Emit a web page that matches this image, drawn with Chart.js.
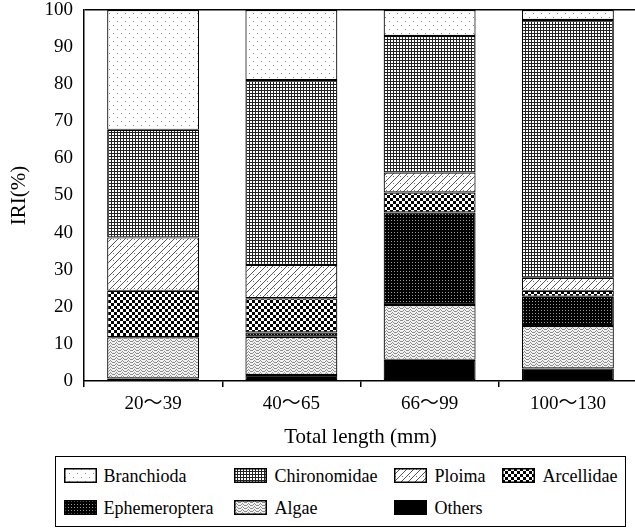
<!DOCTYPE html>
<html>
<head>
<meta charset="utf-8">
<script src="https://cdn.jsdelivr.net/npm/chart.js@4/dist/chart.umd.min.js"></script>
<style>
  html, body { margin: 0; padding: 0; background: #fff; overflow: hidden; width: 635px; height: 529px; }
  #wrap { position: absolute; left: 0; top: 0; width: 645px; height: 455px; }
  #legend { position: absolute; left: 55px; top: 456px; width: 571px; height: 71px; border: 1.5px solid #000; box-sizing: border-box; }
  .sw { position: absolute; width: 33px; height: 15px; }
  .lt { position: absolute; font-family: "Liberation Serif", "Times New Roman", serif; font-size: 18px; color: #000; line-height: 20px; white-space: nowrap; }
</style>
</head>
<body>
<div id="wrap"><canvas id="c" width="645" height="455"></canvas></div>
<div id="legend"></div>
<script>
// ---- data ----
const categories = ['20～39', '40～65', '66～99', '100～130'];
const others        = [0.7, 1.6, 5.7, 3.4];
const algae         = [11.1, 10.3, 14.8, 11.4];
const ephemeroptera = [0.0, 1.2, 24.9, 7.9];
const arcellidae    = [12.5, 9.2, 5.4, 1.6];
const ploima        = [14.4, 9.0, 5.4, 3.5];
const chironomidae  = [29.0, 49.8, 36.8, 69.5];
const branchioda    = [32.3, 18.9, 7.0, 2.7];
const yAxisTitle = 'IRI(%)';
const xAxisTitle = 'Total length (mm)';

// ---- patterns ----
function tile(w, h, draw) {
  const c = document.createElement('canvas');
  c.width = w; c.height = h;
  const g = c.getContext('2d');
  draw(g, w, h);
  return c;
}
const tiles = {
  Branchioda: tile(8, 8, (g) => {
    g.fillStyle = '#fff'; g.fillRect(0, 0, 8, 8);
    g.fillStyle = '#8a8a8a'; g.fillRect(1, 1, 1, 1); g.fillRect(5, 5, 1, 1);
  }),
  Chironomidae: tile(3, 3, (g) => {
    g.fillStyle = '#fff'; g.fillRect(0, 0, 3, 3);
    g.fillStyle = '#222'; g.fillRect(0, 0, 3, 1); g.fillRect(0, 0, 1, 3);
  }),
  Ploima: tile(7, 7, (g) => {
    g.fillStyle = '#fff'; g.fillRect(0, 0, 7, 7);
    g.strokeStyle = '#555'; g.lineWidth = 1;
    g.beginPath(); g.moveTo(-1, 8); g.lineTo(8, -1); g.stroke();
    g.fillStyle = '#777'; g.fillRect(1, 1, 1, 1);
  }),
  Arcellidae: tile(6, 6, (g) => {
    g.fillStyle = '#fff'; g.fillRect(0, 0, 6, 6);
    g.fillStyle = '#000'; g.fillRect(0, 0, 3, 3); g.fillRect(3, 3, 3, 3);
  }),
  Ephemeroptera: tile(3, 3, (g) => {
    g.fillStyle = '#000'; g.fillRect(0, 0, 3, 3);
    g.fillStyle = '#9a9a9a'; g.fillRect(1, 1, 1, 1);
  }),
  Algae: tile(6, 3, (g) => {
    g.fillStyle = '#f2f2f2'; g.fillRect(0, 0, 6, 3);
    g.fillStyle = '#8c8c8c';
    g.fillRect(0, 2, 1, 1); g.fillRect(1, 1, 1, 1); g.fillRect(2, 0, 1, 1);
    g.fillRect(3, 1, 1, 1); g.fillRect(4, 2, 1, 1); g.fillRect(5, 2, 1, 1);
  }),
  Others: tile(2, 2, (g) => { g.fillStyle = '#000'; g.fillRect(0, 0, 2, 2); })
};
const ctx = document.getElementById('c').getContext('2d');
function pat(name) { return ctx.createPattern(tiles[name], 'repeat'); }

const seriesList = [
  ['Others', others],
  ['Algae', algae],
  ['Ephemeroptera', ephemeroptera],
  ['Arcellidae', arcellidae],
  ['Ploima', ploima],
  ['Chironomidae', chironomidae],
  ['Branchioda', branchioda]
];

const datasets = seriesList.map(([name, vals]) => ({
  label: name,
  data: vals,
  backgroundColor: pat(name),
  borderColor: '#000',
  borderWidth: 1.2,
  borderSkipped: false,
  barPercentage: 0.665,
  categoryPercentage: 1.0
}));

const serif = '"Liberation Serif", "Times New Roman", "Noto Sans CJK SC", serif';

const chart = new Chart(ctx, {
  type: 'bar',
  data: { labels: categories, datasets },
  options: {
    responsive: false,
    animation: false,
    layout: { padding: { left: 0, right: 8, top: 0, bottom: 0 } },
    plugins: { legend: { display: false }, tooltip: { enabled: false } },
    scales: {
      x: {
        stacked: true,
        grid: { drawOnChartArea: false, drawTicks: true, tickLength: 6, color: '#000', lineWidth: 1.5 },
        border: { display: true, color: '#000', width: 1.5 },
        ticks: { color: '#000', font: { family: serif, size: 19 }, padding: 6, maxRotation: 0 },
        title: { display: true, text: xAxisTitle, color: '#000', font: { family: serif, size: 21 }, padding: { top: 0, bottom: 5 } },
        afterFit: (s) => { s.height = 74; }
      },
      y: {
        stacked: true,
        min: 0, max: 100,
        grid: {
          drawTicks: false,
          color: (c) => (c.tick && c.tick.value === 100 ? '#000' : 'rgba(0,0,0,0)'),
          lineWidth: 1.5
        },
        border: { display: true, color: '#000', width: 1.5 },
        ticks: { stepSize: 10, color: '#000', font: { family: serif, size: 19, lineHeight: 1.0 }, padding: 11 },
        title: { display: true, text: yAxisTitle, color: '#000', font: { family: serif, size: 21 }, padding: { top: 7, bottom: 0 } },
        afterFit: (s) => { s.width = 84; s.paddingTop = 10; s.paddingBottom = 10; }
      }
    }
  }
});

// ---- HTML legend built from the chart's datasets ----
const legendOrder = ['Branchioda', 'Chironomidae', 'Ploima', 'Arcellidae', 'Ephemeroptera', 'Algae', 'Others'];
const swLeft = [64, 234, 394, 502];
const txLeft = [104, 275, 435, 543];
const rowCenter = [476, 508];
const legend = document.getElementById('legend');
const L0 = 55, T0 = 456;
legendOrder.forEach((name, i) => {
  const ds = chart.data.datasets.find(d => d.label === name);
  const row = i < 4 ? 0 : 1;
  const col = i < 4 ? i : i - 4;
  const sw = document.createElement('canvas');
  sw.width = 33; sw.height = 15; sw.className = 'sw';
  sw.style.left = (swLeft[col] - L0 - 1.5) + 'px';
  sw.style.top = (rowCenter[row] - 7.5 - T0 - 1.5) + 'px';
  const g = sw.getContext('2d');
  g.fillStyle = g.createPattern(tiles[ds.label], 'repeat');
  g.fillRect(0, 0, 33, 15);
  g.strokeStyle = '#000'; g.lineWidth = 1.5; g.strokeRect(0.75, 0.75, 31.5, 13.5);
  legend.appendChild(sw);
  const t = document.createElement('div');
  t.className = 'lt';
  t.textContent = ds.label;
  t.style.left = (txLeft[col] - L0 - 1.5) + 'px';
  t.style.top = (rowCenter[row] - 10 - T0 - 1.5) + 'px';
  legend.appendChild(t);
});
</script>
</body>
</html>
